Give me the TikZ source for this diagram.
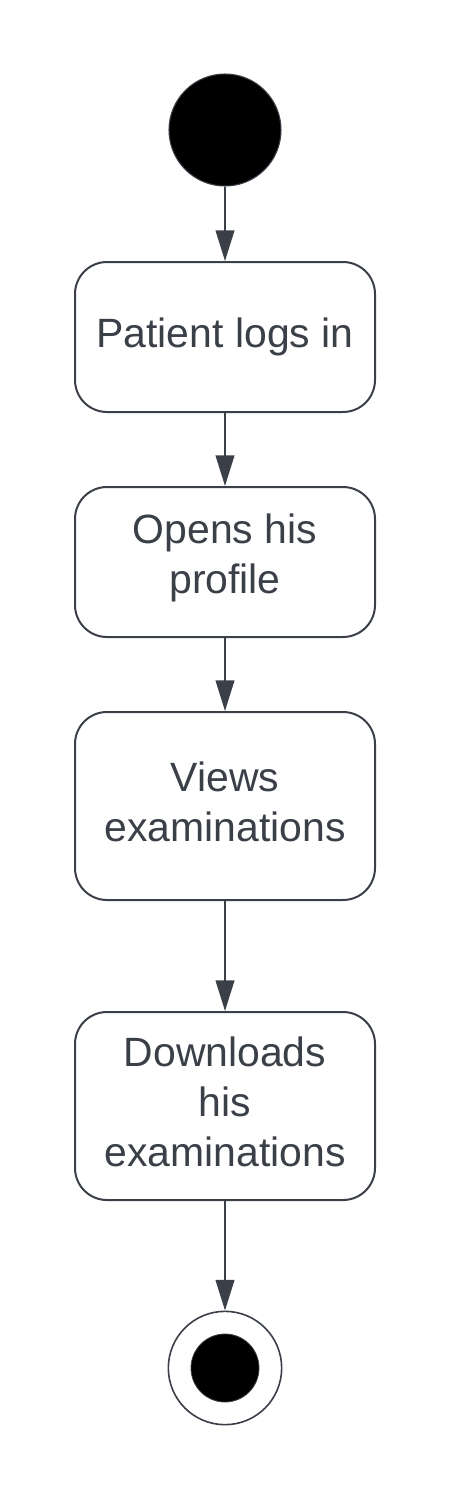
\documentclass[tikz,border=0pt]{standalone}
\usepackage{fontspec}
\setmainfont{Liberation Sans}
\usetikzlibrary{arrows.meta}
\definecolor{ink}{HTML}{3A3F48}
\begin{document}
\begin{tikzpicture}[x=0.75pt,y=-0.75pt,
  act/.style={draw=ink,line width=1.5pt,rounded corners=24pt,minimum width=225pt,inner sep=0pt},
  lbl/.style={align=center,text=ink,inner sep=0pt,font=\fontsize{30.7}{37.5}\selectfont,yshift=3pt},
  flow/.style={draw=ink,line width=1.5pt,-{Triangle[width=14pt,length=23pt]}}]
\useasboundingbox (0,0) rectangle (450,1500);
\node[circle,fill=black,draw=ink,line width=0.8pt,minimum size=84pt,inner sep=0pt] (start) at (225,130) {};
\node[act,minimum height=112.5pt,align=center,text=ink,font=\fontsize{30.7}{37.5}\selectfont] (a1) at (225,337) {Patient logs in};
\node[act,minimum height=112.5pt,label={[lbl]center:{Opens his\\profile}}] (a2) at (225,562) {};
\node[act,minimum height=141pt,label={[lbl]center:{Views\\examinations}}] (a3) at (225,806) {};
\node[act,minimum height=141pt,label={[lbl]center:{Downloads\\his\\examinations}}] (a4) at (225,1106) {};
\node[circle,fill=white,draw=ink,line width=1.2pt,minimum size=85pt,inner sep=0pt] (end) at (225,1368) {};
\node[circle,fill=black,draw=ink,line width=0.6pt,minimum size=51pt,inner sep=0pt] (endin) at (end.center) {};
\draw[flow] (start) -- (a1);
\draw[flow] (a1) -- (a2);
\draw[flow] (a2) -- (a3);
\draw[flow] (a3) -- (a4);
\draw[flow] (a4) -- (end);
\end{tikzpicture}
\end{document}
